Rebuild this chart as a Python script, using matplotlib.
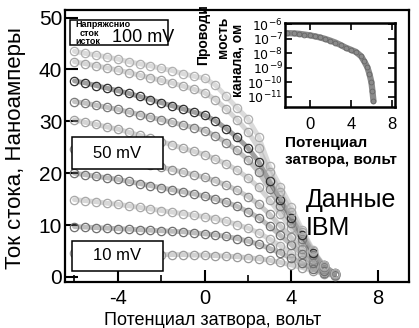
import matplotlib.pyplot as plt
from matplotlib.patches import Rectangle

plt.rcParams['font.family'] = ['Liberation Sans', 'DejaVu Sans']
plt.rcParams['axes.unicode_minus'] = False

# gate voltage grid (V) and drain current (nA) for each drain voltage
gate_v = [-6.0, -5.5, -5.0, -4.5, -4.0, -3.5, -3.0, -2.5, -2.0, -1.5, -1.0, -0.5,
          0.0, 0.5, 1.0, 1.5, 2.0, 2.5, 3.0, 3.5, 4.0, 4.5, 5.0, 5.5, 6.0]

i_10mv = [4.6, 4.6, 4.5, 4.5, 4.5, 4.4, 4.4, 4.4, 4.3, 4.3, 4.3, 4.2, 4.2,
          4.1, 4.0, 3.9, 3.7, 3.5, 3.2, 2.8, 2.3, 1.8, 1.2, 0.6, 0.2]
i_20mv = [9.7, 9.6, 9.5, 9.4, 9.3, 9.2, 9.1, 9.0, 8.9, 8.8, 8.7, 8.5, 8.3,
          8.1, 7.8, 7.4, 6.9, 6.3, 5.5, 4.6, 3.6, 2.6, 1.6, 0.8, 0.3]
i_30mv = [14.9, 14.7, 14.5, 14.2, 14.0, 13.7, 13.4, 13.1, 12.8, 12.5, 12.2, 11.9, 11.6,
          11.2, 10.7, 10.1, 9.4, 8.5, 7.3, 6.0, 4.6, 3.3, 1.9, 0.9, 0.3]
i_40mv = [20.0, 19.7, 19.4, 19.1, 18.8, 18.4, 18.0, 17.6, 17.2, 16.8, 16.4, 16.0, 15.6,
          15.0, 14.4, 13.6, 12.6, 11.4, 9.8, 8.0, 6.2, 4.4, 2.6, 1.2, 0.4]
i_50mv = [24.6, 24.2, 23.9, 23.5, 23.1, 22.6, 22.1, 21.6, 21.2, 20.7, 20.2, 19.7, 19.2,
          18.5, 17.7, 16.7, 15.5, 14.0, 12.1, 9.8, 7.6, 5.4, 3.2, 1.5, 0.5]
i_60mv = [30.3, 29.8, 29.4, 28.9, 28.5, 27.9, 27.3, 26.7, 26.1, 25.5, 24.8, 24.2, 23.6,
          22.7, 21.8, 20.6, 19.1, 17.3, 14.8, 12.1, 9.4, 6.7, 3.9, 1.8, 0.6]
i_70mv = [33.8, 33.5, 33.1, 32.7, 32.3, 31.8, 31.3, 30.8, 30.3, 29.8, 29.3, 28.8, 28.2,
          27.2, 25.9, 24.4, 22.6, 20.2, 16.9, 13.6, 10.4, 7.3, 4.3, 2.0, 0.6]
i_80mv = [37.8, 37.4, 36.9, 36.4, 35.9, 35.4, 34.8, 34.2, 33.6, 33.0, 32.4, 31.8, 31.2,
          30.1, 28.6, 26.9, 24.9, 22.2, 18.4, 14.9, 11.4, 8.0, 4.7, 2.2, 0.7]
i_90mv = [41.5, 41.1, 40.7, 40.3, 39.9, 39.4, 38.9, 38.4, 37.9, 37.4, 36.8, 36.2, 35.5,
          34.2, 32.4, 30.3, 28.0, 24.8, 20.3, 16.3, 12.5, 8.6, 5.0, 2.1, 0.6]
i_100mv = [43.5, 43.1, 42.8, 42.4, 42.0, 41.5, 41.1, 40.7, 40.2, 39.8, 39.2, 38.7, 38.3,
           37.0, 34.8, 32.6, 30.5, 27.0, 21.3, 17.4, 13.5, 9.1, 5.2, 2.2, 0.7]

curves = [i_10mv, i_20mv, i_30mv, i_40mv, i_50mv, i_60mv, i_70mv, i_80mv, i_90mv, i_100mv]
shades = ['#9a9a9a', '#6e6e6e', '#a8a8a8', '#707070', '#8c8c8c',
          '#a0a0a0', '#7a7a7a', '#2e2e2e', '#a4a4a4', '#b0b0b0']

# inset: channel conductance vs gate voltage
inset_v = [-2.2, -1.5, -1.0, -0.5, 0.0, 0.5, 1.0, 1.5, 2.0, 2.5, 3.0, 3.5, 4.0,
           4.5, 5.0, 5.3, 5.6, 5.8, 6.0, 6.1, 6.2]
inset_g = [2.5e-7, 2.4e-7, 2.24e-7, 2.0e-7, 1.78e-7, 1.51e-7, 1.26e-7, 1.0e-7,
           7.6e-8, 5.6e-8, 3.8e-8, 2.5e-8, 1.78e-8, 1.26e-8, 6.3e-9, 2.8e-9,
           1.12e-9, 4.0e-10, 1.0e-10, 2.5e-11, 5.0e-12]

fig = plt.figure(figsize=(4.19, 3.28), dpi=100)
ax = fig.add_axes([0.155, 0.140, 0.821, 0.830])

for vals, c in zip(curves, shades):
    ax.plot(gate_v, vals, color=c, lw=3.5, alpha=0.45, solid_capstyle='round', zorder=2)
    ax.plot(gate_v, vals, 'o', ms=6, mfc='none', mec=c, mew=0.9, zorder=3)

ax.set_xlim(-6.44, 9.43)
ax.set_ylim(-1.0, 51.5)
ax.set_xticks([-4, 0, 4, 8])
ax.set_xticks([-6, -2, 2, 6], minor=True)
ax.set_yticks([0, 10, 20, 30, 40, 50])
ax.tick_params(axis='x', which='major', direction='in', length=9, width=1.5,
               labelsize=14.5, pad=5)
ax.tick_params(axis='x', which='minor', direction='in', length=5, width=1.2)
ax.tick_params(axis='y', direction='in', length=9, width=1.5, labelsize=15, pad=2)
for s in ax.spines.values():
    s.set_linewidth(1.6)

# label boxes
box_kw = dict(transform=ax.transAxes, fc='white', ec='black', lw=1.1, zorder=5)
ax.add_patch(Rectangle((0.015, 0.871), 0.284, 0.092, **box_kw))
ax.add_patch(Rectangle((0.020, 0.415), 0.265, 0.118, **box_kw))
ax.add_patch(Rectangle((0.020, 0.040), 0.265, 0.111, **box_kw))
ax.text(0.03, 0.947, 'Напряжснио', transform=ax.transAxes, fontsize=6.5,
        fontweight='bold', va='center', ha='left', zorder=6)
ax.text(0.042, 0.914, 'сток', transform=ax.transAxes, fontsize=6.5,
        fontweight='bold', va='center', ha='left', zorder=6)
ax.text(0.030, 0.884, 'исток', transform=ax.transAxes, fontsize=6.5,
        fontweight='bold', va='center', ha='left', zorder=6)
ax.text(0.228, 0.897, '100 mV', transform=ax.transAxes, fontsize=13,
        va='center', ha='center', zorder=6)
ax.text(0.152, 0.474, '50 mV', transform=ax.transAxes, fontsize=12,
        va='center', ha='center', zorder=6)
ax.text(0.152, 0.096, '10 mV', transform=ax.transAxes, fontsize=12,
        va='center', ha='center', zorder=6)

ax.text(0.70, 0.25, 'Данные\nIBM', transform=ax.transAxes, fontsize=18,
        va='center', ha='left', linespacing=1.25)

fig.text(0.036, 0.55, 'Ток стока, Наноамперы', rotation=90, fontsize=16,
         ha='center', va='center')
fig.text(0.508, 0.024, 'Потенциал затвора, вольт', fontsize=13,
         ha='center', va='center')

# inset
ins = fig.add_axes([0.680, 0.674, 0.263, 0.256])
ins.plot(inset_v, inset_g, color='#8a8a8a', lw=4.5, solid_capstyle='round')
ins.plot(inset_v, inset_g, 'o', ms=3.5, mfc='none', mec='#666666', mew=0.6)
ins.set_yscale('log')
ins.set_xlim(-2.4, 8.3)
ins.set_ylim(10**-11.7, 10**-5.9)
ins.set_xticks([0, 4, 8])
ins.set_yticks([1e-6, 1e-7, 1e-8, 1e-9, 1e-10, 1e-11])
ins.set_yticklabels([r'$10^{-6}$', r'$10^{-7}$', r'$10^{-8}$', r'$10^{-9}$',
                     r'$10^{-10}$', r'$10^{-11}$'])
ins.minorticks_off()
ins.tick_params(direction='in', length=5, width=1.2, labelsize=12,
                left=True, right=True, top=True, bottom=True, pad=2)
ins.tick_params(axis='y', labelsize=9, pad=1.5)
ins.tick_params(axis='x', pad=7)
for s in ins.spines.values():
    s.set_linewidth(1.8)

fig.text(0.485, 0.895, 'Проводи', rotation=90, fontsize=10, fontweight='bold',
         ha='center', va='center')
fig.text(0.533, 0.885, 'мость', rotation=90, fontsize=10, fontweight='bold',
         ha='center', va='center')
fig.text(0.568, 0.815, 'канала, ом', rotation=90, fontsize=10, fontweight='bold',
         ha='center', va='center')
fig.text(0.680, 0.565, 'Потенциал', fontsize=11, fontweight='bold',
         ha='left', va='center')
fig.text(0.680, 0.512, 'затвора, вольт', fontsize=11, fontweight='bold',
         ha='left', va='center')

fig.savefig('out.png', dpi=100)
